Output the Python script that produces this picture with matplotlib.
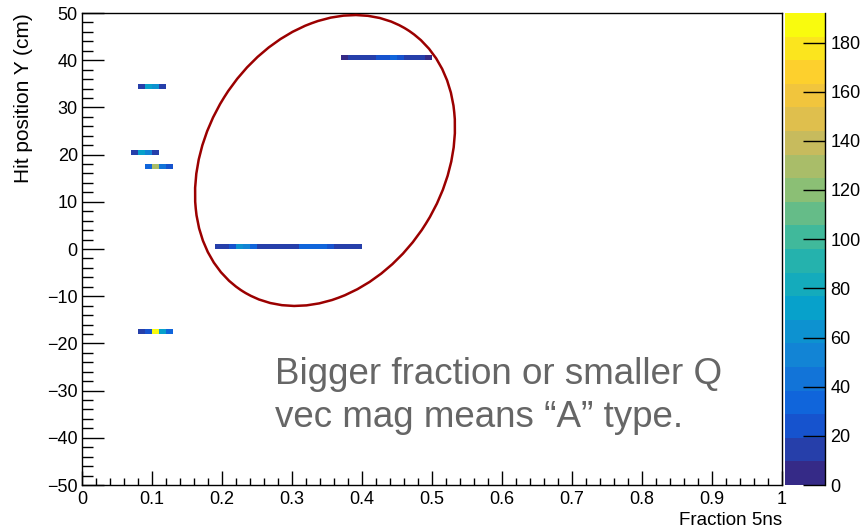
import numpy as np
import matplotlib
matplotlib.use("Agg")
import matplotlib.pyplot as plt
from matplotlib.colors import LinearSegmentedColormap, BoundaryNorm
from matplotlib.patches import Ellipse
from matplotlib.transforms import IdentityTransform
from matplotlib.ticker import MultipleLocator

plt.rcParams["font.family"] = ["Liberation Sans", "DejaVu Sans"]

# histogram binning (ROOT TH2: 100 x 100)
x_edges = np.linspace(0, 1, 101)
y_edges = np.linspace(-50, 50, 101)

# filled rows: lower y edge of the row, first x bin edge, bin contents
row_y = [34, 20, 17, -18, 0, 40]
row_x0 = [0.08, 0.07, 0.09, 0.08, 0.19, 0.37]
row_vals = [
    [10, 75, 65, 10],
    [10, 70, 55, 10],
    [35, 130, 40, 20],
    [10, 25, 192, 75, 30],
    [10, 12, 25, 60, 55, 30, 15, 12, 10, 10, 12, 15, 30, 35, 35, 30, 25, 12, 10, 10, 12],
    [8, 10, 12, 15, 18, 22, 28, 30, 25, 15, 10, 10, 8],
]

z_max = 192
cbar_ticks = [0, 20, 40, 60, 80, 100, 120, 140, 160, 180]

note = "Bigger fraction or smaller Q\nvec mag means \u201cA\u201d type."

# ROOT kBird palette
stops = [0.0, 0.125, 0.25, 0.375, 0.5, 0.625, 0.75, 0.875, 1.0]
red = [0.2082, 0.0592, 0.0780, 0.0232, 0.1802, 0.5301, 0.8186, 0.9956, 0.9764]
green = [0.1664, 0.3599, 0.5041, 0.6419, 0.7178, 0.7492, 0.7328, 0.7862, 0.9832]
blue = [0.5293, 0.8684, 0.8385, 0.7914, 0.6425, 0.4662, 0.3499, 0.1968, 0.0539]
bird = LinearSegmentedColormap.from_list(
    "bird", list(zip(stops, zip(red, green, blue))))

z = np.zeros((100, 100))
for y0, x0, vals in zip(row_y, row_x0, row_vals):
    iy = int(round(y0 + 50))
    ix = int(round(x0 * 100))
    z[iy, ix:ix + len(vals)] = vals
z = np.ma.masked_equal(z, 0)

levels = np.linspace(0, z_max, 21)
norm = BoundaryNorm(levels, 256)

W, H = 866, 529
fig = plt.figure(figsize=(W / 100, H / 100), dpi=100)
ax = fig.add_axes([82 / W, 1 - 485 / H, 700 / W, 472 / H])
cax = fig.add_axes([785 / W, 1 - 485 / H, 40 / W, 472 / H])

mesh = ax.pcolormesh(x_edges, y_edges, z, cmap=bird, norm=norm)
ax.set_xlim(0, 1)
ax.set_ylim(-50, 50)

ax.xaxis.set_minor_locator(MultipleLocator(0.02))
ax.yaxis.set_major_locator(MultipleLocator(10))
ax.yaxis.set_minor_locator(MultipleLocator(2))
ax.set_xticks(np.arange(0, 1.01, 0.1))
ax.set_xticklabels(["0", "0.1", "0.2", "0.3", "0.4", "0.5", "0.6", "0.7", "0.8", "0.9", "1"])
ax.tick_params(axis="x", which="major", direction="in", length=10, width=1, labelsize=13, pad=4)
ax.tick_params(axis="x", which="minor", direction="in", length=5, width=1)
ax.tick_params(axis="y", which="major", direction="in", length=16, width=1, labelsize=13, pad=3)
ax.tick_params(axis="y", which="minor", direction="in", length=8, width=1)
for s in ax.spines.values():
    s.set_linewidth(1)

ax.set_xlabel("Fraction 5ns", fontsize=13.5, loc="right", labelpad=3)
ax.set_ylabel("Hit position Y (cm)", fontsize=15, loc="top", labelpad=10)

cb = fig.colorbar(mesh, cax=cax, ticks=cbar_ticks)
cb.outline.set_visible(False)
cax.plot([1, 1], [0, 1], transform=cax.transAxes, color="black", lw=1, clip_on=False)
cax.tick_params(direction="in", length=16, width=1, labelsize=13, pad=4)
cax.minorticks_off()

# circled region (drawn in pixel space)
ell = Ellipse((325, H - 160.5), 309, 238, angle=58, fill=False,
              edgecolor="#9b0000", lw=1.8, transform=IdentityTransform())
fig.add_artist(ell)

fig.text(275 / W, 1 - 357 / H, note, fontsize=26.5, color="#666666",
         ha="left", va="top", linespacing=1.3)

fig.savefig("out.png", dpi=100)
